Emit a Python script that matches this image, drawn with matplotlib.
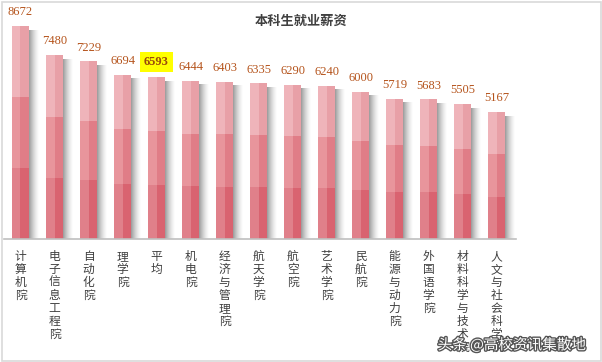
import matplotlib
matplotlib.use("Agg")
import matplotlib.pyplot as plt
import matplotlib.patheffects as pe
from matplotlib.patches import Rectangle

plt.rcParams['font.family'] = ['Noto Sans CJK SC', 'DejaVu Sans']

categories = ["计算机院", "电子信息工程院", "自动化院", "理学院", "平均", "机电院",
              "经济与管理院", "航天学院", "航空院", "艺术学院", "民航院",
              "能源与动力院", "外国语学院", "材料科学与技术院", "人文与社会科学院"]
values = [8672, 7480, 7229, 6694, 6593, 6444, 6403, 6335, 6290, 6240, 6000,
          5719, 5683, 5505, 5167]
highlight = "平均"
title = "本科生就业薪资"
watermark = "头条 @高校资讯集散地"

seg_left = ["#E0808A", "#E8959C", "#EFB4BA"]
seg_right = ["#D96370", "#E07D87", "#E8A0A7"]

W, H = 602, 362
fig = plt.figure(figsize=(W / 100, H / 100), dpi=100)
fig.patch.set_facecolor("white")

# border
fig.add_artist(Rectangle((1.5 / W, 1.5 / H), (W - 3) / W, (H - 3) / H,
                         transform=fig.transFigure, fill=False,
                         edgecolor="#D9D9D9", linewidth=1.2))

ax = fig.add_axes([4 / W, 123 / H, 512 / W, 221 / H])
ax.set_xlim(-0.485, 14.57)
ax.set_ylim(0, 9000)
for s in ["top", "right", "left"]:
    ax.spines[s].set_visible(False)
ax.spines["bottom"].set_color("#BFBFBF")
ax.spines["bottom"].set_linewidth(1.2)
ax.set_yticks([])

x = list(range(len(categories)))
px = 1 / 34.0
half = 0.25

# shadows
nsteps = 10
for k in range(nsteps):
    a = 0.65 * (1 - k / nsteps) ** 1.5
    ax.bar([i + half + (k + 0.5) * px for i in x],
           [v - 150 for v in values], width=px, color="#6E6E6E", alpha=a,
           linewidth=0, zorder=1)

# stacked segments (thirds)
for s in range(3):
    bottoms = [v * s / 3 for v in values]
    heights = [v / 3 for v in values]
    ax.bar([i - half / 2 for i in x], heights, bottom=bottoms, width=half,
           color=seg_left[s], linewidth=0, zorder=2)
    ax.bar([i + half / 2 for i in x], heights, bottom=bottoms, width=half,
           color=seg_right[s], linewidth=0, zorder=2)

# value labels
for i, (c, v) in enumerate(zip(categories, values)):
    if c == highlight:
        ax.annotate(f"{v}", (i, v), xytext=(0, 11), textcoords="offset points",
                    ha="center", va="center", fontsize=9, fontweight="bold",
                    family="Liberation Serif", color="#9A4A0C",
                    bbox=dict(boxstyle="square,pad=0.3", fc="#FFFF00", ec="none"),
                    annotation_clip=False)
    else:
        ax.annotate(f"{v}", (i, v), xytext=(0, 10), textcoords="offset points",
                    ha="center", va="center", fontsize=9,
                    family="Liberation Serif", color="#B5541C",
                    annotation_clip=False)

ax.set_xticks(x)
ax.set_xticklabels(["\n".join(c) for c in categories], fontsize=8.5,
                   color="#404040", linespacing=1.0, va="top")
ax.tick_params(axis="x", length=0, pad=8)

fig.text(301 / W, 1 - 21 / H, title, ha="center", va="center", fontsize=9.5,
         fontweight="bold", color="#404040")

fig.text(512 / W, 1 - 345 / H, watermark, ha="center", va="center",
         fontsize=10.5, color="white", zorder=10,
         path_effects=[pe.withStroke(linewidth=2, foreground="#555555")])

fig.savefig("out.png", dpi=100, facecolor="white")
